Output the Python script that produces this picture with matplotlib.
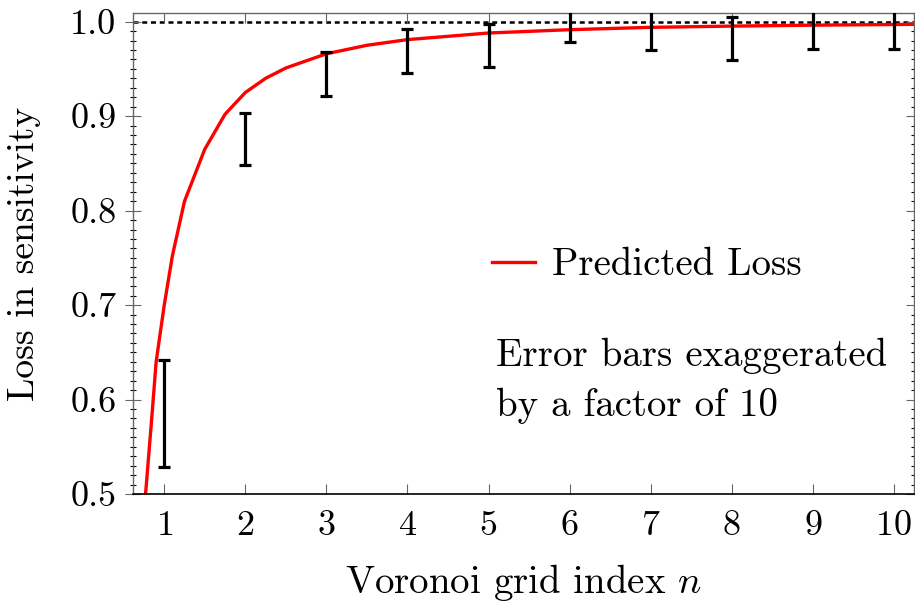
import numpy as np
import matplotlib
matplotlib.use("Agg")
from matplotlib import pyplot as plt
from matplotlib.ticker import MultipleLocator

plt.rcParams['font.family'] = 'cmr10'
plt.rcParams['mathtext.fontset'] = 'cm'
plt.rcParams['axes.formatter.use_mathtext'] = True

# predicted loss curve
curve_n = [0.76, 0.85, 0.9, 1.0, 1.1, 1.25, 1.5, 1.75, 2.0, 2.25, 2.5, 3.0,
           3.5, 4.0, 5.0, 6.0, 7.0, 8.0, 9.0, 10.0, 10.3]
curve_loss = [0.49, 0.585, 0.64, 0.70, 0.752, 0.81, 0.865, 0.902, 0.925, 0.94,
              0.951, 0.966, 0.975, 0.981, 0.988, 0.9915, 0.994, 0.9953, 0.9963,
              0.997, 0.9972]

# measured points with (exaggerated) error bars
n_pts = [1, 2, 3, 4, 5, 6, 7, 8, 9, 10]
err_low = [0.529, 0.848, 0.921, 0.946, 0.952, 0.979, 0.970, 0.959, 0.971, 0.971]
err_high = [0.642, 0.903, 0.968, 0.992, 0.998, 1.019, 1.016, 1.005, 1.015, 1.015]

mid = (np.array(err_low) + np.array(err_high)) / 2
half = (np.array(err_high) - np.array(err_low)) / 2

fig = plt.figure(figsize=(9.15, 6.15), dpi=100)
ax = fig.add_axes([0.1454, 0.1967, 0.8536, 0.7822])

ax.axhline(1.0, color='black', ls=(0, (2, 1.5)), lw=1.8, zorder=1)
ax.errorbar(n_pts, mid, yerr=half, fmt='none', ecolor='black', elinewidth=2.3,
            capsize=4, capthick=2.3, zorder=3)
ax.plot(curve_n, curve_loss, color='#ff0000', lw=2.4, zorder=2, label='Predicted Loss')

ax.set_xlim(0.615, 10.25)
ax.set_ylim(0.5, 1.0092)
ax.set_xticks(range(1, 11))
ax.set_yticks([0.5, 0.6, 0.7, 0.8, 0.9, 1.0])
ax.set_yticklabels(['0.5', '0.6', '0.7', '0.8', '0.9', '1.0'])
ax.yaxis.set_minor_locator(MultipleLocator(0.01))

ax.tick_params(axis='both', labelsize=26, colors='#666666', labelcolor='black')
ax.tick_params(axis='x', which='major', direction='in', length=7, width=0.8,
               top=True, pad=12)
ax.tick_params(axis='y', which='major', direction='inout', length=12, width=0.8,
               right=True, pad=6)
ax.tick_params(axis='y', which='minor', direction='inout', length=5, width=0.8,
               right=True)
for s in ['left', 'top', 'right']:
    ax.spines[s].set_color('#666666')
    ax.spines[s].set_linewidth(1.0)
ax.spines['bottom'].set_color('black')
ax.spines['bottom'].set_linewidth(1.2)

ax.set_xlabel('Voronoi grid index $n$', fontsize=28, labelpad=14)
ax.set_ylabel('Loss in sensitivity', fontsize=27)
ax.yaxis.set_label_coords(-0.118, 0.5)

ax.legend(loc='center left', bbox_to_anchor=(0.415, 0.475), frameon=False,
          fontsize=28, handlelength=1.1, handletextpad=0.45)
ax.text(0.465, 0.235, 'Error bars exaggerated\nby a factor of 10', transform=ax.transAxes,
        fontsize=28, va='center', ha='left', linespacing=1.5)

fig.savefig('out.png', dpi=100)
